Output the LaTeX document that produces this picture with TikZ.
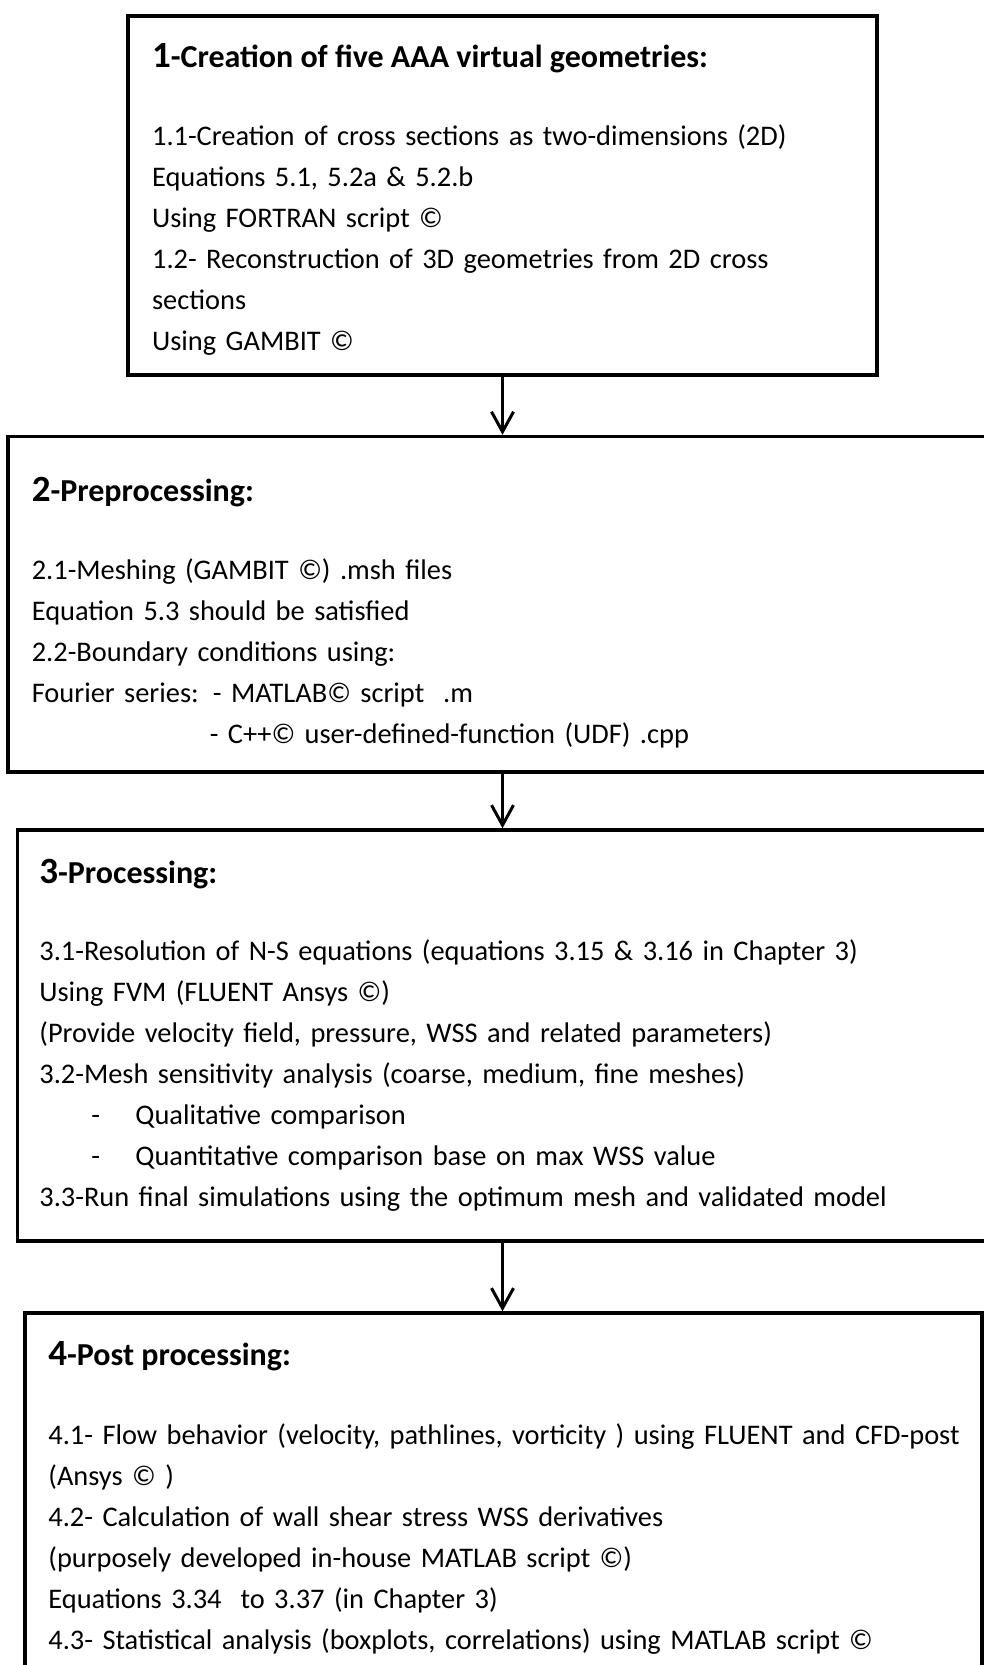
\documentclass[tikz,border=0pt]{standalone}
\usepackage{fontspec}
\setmainfont{Carlito}
\usetikzlibrary{arrows.meta}

\newcommand{\stepno}[1]{{\fontsize{18.5}{22}\selectfont #1}}

\begin{document}
\begin{tikzpicture}[x=0.5pt,y=-0.5pt,
    stage/.style={draw, line width=1.75pt, inner sep=0pt},
    head/.style={anchor=base west, inner sep=0pt, font=\fontsize{16}{19}\selectfont\bfseries},
    body/.style={anchor=base west, inner sep=0pt, text width=480pt, align=left,
        font=\fontsize{14.2}{20.5}\selectfont},
    flow/.style={line width=1.5pt, -{Straight Barb[length=10pt,width=11pt,line width=1.5pt]}}]
\useasboundingbox (0,0) rectangle (984,1665);
% boxes
\node[stage, minimum width=374.5pt, minimum height=179.5pt] (b1) at (502.5,195.5) {};
\node[stage, minimum width=496pt, minimum height=167.7pt] (b2) at (504,604.3) {};
\node[stage, minimum width=491.25pt, minimum height=205.5pt] (b3) at (508.75,1035.5) {};
\node[stage, minimum width=478.5pt, minimum height=193.5pt] (b4) at (503.5,1506.5) {};
% 1
\node[head] (h1) at (151.7,67.5) {\stepno{1}-Creation of five AAA virtual geometries:};
\node[body] (t1) at (151.7,145.5) {1.1-Creation of cross sections as two-dimensions (2D)\\
    Equations 5.1, 5.2a \& 5.2.b\\
    Using FORTRAN script ©\\
    1.2- Reconstruction of 3D geometries from 2D cross\\
    sections\\
    Using GAMBIT ©};
% 2
\node[head] (h2) at (31.4,501) {\stepno{2}-Preprocessing:};
\node[body] (t2) at (31.4,579) {2.1-Meshing (GAMBIT ©) .msh files\\
    Equation 5.3 should be satisfied\\
    2.2-Boundary conditions using:\\
    Fourier series: - MATLAB© script~ .m\\
    \hspace*{89pt}- C++© user-defined-function (UDF) .cpp};
% 3
\node[head] (h3) at (39,883) {\stepno{3}-Processing:};
\node[body] (t3) at (39,960) {3.1-Resolution of N-S equations (equations 3.15 \& 3.16 in Chapter 3)\\
    Using FVM (FLUENT Ansys ©)\\
    (Provide velocity field, pressure, WSS and related parameters)\\
    3.2-Mesh sensitivity analysis (coarse, medium, fine meshes)\\
    \hspace*{26pt}\makebox[22pt][l]{-}Qualitative comparison\\
    \hspace*{26pt}\makebox[22pt][l]{-}Quantitative comparison base on max WSS value\\
    3.3-Run final simulations using the optimum mesh and validated model};
% 4
\node[head] (h4) at (48,1365) {\stepno{4}-Post processing:};
\node[body] (t4) at (48,1444) {4.1- Flow behavior (velocity, pathlines, vorticity ) using FLUENT and CFD-post\\
    (Ansys © )\\
    4.2- Calculation of wall shear stress WSS derivatives\\
    (purposely developed in-house MATLAB script ©)\\
    Equations 3.34~ to 3.37 (in Chapter 3)\\
    4.3- Statistical analysis (boxplots, correlations) using MATLAB script ©};
% arrows
\draw[flow] (b1.south) -- (b1.south |- b2.north);
\draw[flow] (b1.south |- b2.south) -- (b1.south |- b3.north);
\draw[flow] (b1.south |- b3.south) -- (b1.south |- b4.north);
\end{tikzpicture}
\end{document}
